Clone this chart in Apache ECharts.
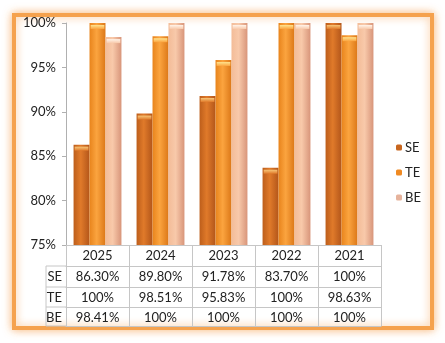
<!DOCTYPE html>
<html><head><meta charset="utf-8">
<script src="https://cdn.jsdelivr.net/npm/echarts@6/dist/echarts.min.js"></script>
<style>html,body{margin:0;padding:0;background:#fff}#c{width:445px;height:343px}</style>
</head><body><div id="c"></div>
<script>
var categories = ['2025', '2024', '2023', '2022', '2021'];
var seriesNames = ['SE', 'TE', 'BE'];
var SE = [86.30, 89.80, 91.78, 83.70, 100];
var TE = [100, 98.51, 95.83, 100, 98.63];
var BE = [98.41, 100, 100, 100, 100];
var yTicks = [75, 80, 85, 90, 95, 100];

var FONT = 'Lato';
var G = {left: 66, right: 381, top: 23, bottom: 245};
var rowH = [21, 21, 20, 19];
var lineC = '#c6c6c6';

function fmt(v) { return v === 100 ? '100%' : v.toFixed(2) + '%'; }
function grad(a, b, c) {
  return new echarts.graphic.LinearGradient(0, 0, 1, 0, [
    {offset: 0, color: a}, {offset: 0.45, color: b}, {offset: 1, color: c}]);
}
function vgrad(a, b) {
  return new echarts.graphic.LinearGradient(0, 0, 0, 1, [
    {offset: 0, color: a}, {offset: 1, color: b}]);
}
var fills = [
  grad('#bd5e1b', '#e07a2a', '#b3561a'),
  grad('#e8841c', '#fba43f', '#dc7818'),
  grad('#f3bc98', '#f8c9aa', '#d8957a')
];
var caps = [
  vgrad('#f7c678', '#e07a2a'),
  vgrad('#fee490', '#fba43f'),
  vgrad('#fff4ea', '#f8c9aa')
];
var legendColors = ['#c8661e', '#f08a22', '#e6b39c'];
var values = [SE, TE, BE];

var chart = echarts.init(document.getElementById('c'), null, {renderer: 'canvas'});

var xAxes = [{
  type: 'category', data: categories, gridIndex: 0, position: 'bottom', offset: 0,
  axisLine: {show: true, lineStyle: {color: lineC}},
  axisTick: {show: true, interval: 0, length: rowH[0], lineStyle: {color: lineC}},
  axisLabel: {interval: 0, margin: 4, fontFamily: FONT, fontSize: 13, color: '#222'}
}];
var off = 0;
for (var i = 0; i < 3; i++) {
  off += rowH[i];
  (function (vals, name, o, tl) {
    xAxes.push({
      type: 'category', data: vals.map(fmt), gridIndex: 0, position: 'bottom', offset: o,
      name: name, nameLocation: 'start', nameGap: 4,
      nameTextStyle: {fontFamily: FONT, fontSize: 13, color: '#222', verticalAlign: 'top', padding: [4, 0, 0, 0]},
      axisLine: {show: true, lineStyle: {color: lineC}},
      axisTick: {show: true, interval: 0, length: tl, lineStyle: {color: lineC}},
      axisLabel: {interval: 0, margin: 4, fontFamily: FONT, fontSize: 13, color: '#222'}
    });
  })(values[i], seriesNames[i], off, rowH[i + 1]);
}
off += rowH[3];
xAxes.push({
  type: 'category', data: categories, gridIndex: 0, position: 'bottom', offset: off,
  axisLine: {show: true, lineStyle: {color: lineC}},
  axisTick: {show: false}, axisLabel: {show: false}
});

var tableTop = G.bottom + rowH[0];
var graphics = [{
  type: 'rect', z: -10, silent: true,
  shape: {x: 14, y: 15, width: 418, height: 313},
  style: {fill: '#fff', stroke: '#f5a24e', lineWidth: 4, shadowBlur: 9, shadowColor: 'rgba(245,150,60,0.6)'}
}, {
  type: 'line', silent: true, shape: {x1: 46, y1: tableTop, x2: 46, y2: G.bottom + off},
  style: {stroke: lineC, lineWidth: 1}
}];
var yy = tableTop;
for (var k = 0; k < 4; k++) {
  graphics.push({type: 'line', silent: true, shape: {x1: 46, y1: yy, x2: G.left, y2: yy}, style: {stroke: lineC, lineWidth: 1}});
  yy += rowH[k + 1] || 0;
}

var series = seriesNames.map(function (n, i) {
  return {
    name: n, type: 'bar', xAxisIndex: 0, data: values[i],
    barCategoryGap: '24%', barGap: '0%',
    itemStyle: {color: fills[i]}
  };
});
seriesNames.forEach(function (n, i) {
  series.push({
    name: n + ' top', type: 'pictorialBar', xAxisIndex: 0, data: values[i],
    barCategoryGap: '24%', barGap: '0%',
    symbol: 'rect', symbolSize: ['86%', 4], symbolPosition: 'end', symbolOffset: [0, '50%'],
    itemStyle: {color: caps[i]}, z: 3
  });
});

chart.setOption({
  animation: false,
  backgroundColor: '#fff',
  graphic: graphics,
  grid: {left: G.left, right: 445 - G.right, top: G.top, bottom: 343 - G.bottom, containLabel: false},
  legend: {
    orient: 'vertical', left: 391, top: 136, itemWidth: 6, itemHeight: 6, itemGap: 12,
    textStyle: {fontFamily: FONT, fontSize: 13, color: '#222', padding: [0, 0, 0, -2]},
    data: seriesNames.map(function (n, i) { return {name: n, itemStyle: {color: legendColors[i]}}; })
  },
  xAxis: xAxes,
  yAxis: {
    type: 'value', min: yTicks[0], max: yTicks[yTicks.length - 1], interval: 5,
    axisLine: {show: true, lineStyle: {color: '#b0b0b0'}},
    axisTick: {show: true, length: 4, lineStyle: {color: '#b0b0b0'}},
    splitLine: {show: false},
    axisLabel: {margin: 10, fontFamily: FONT, fontSize: 13, color: '#222', formatter: '{value}%'}
  },
  series: series
});
</script></body></html>
